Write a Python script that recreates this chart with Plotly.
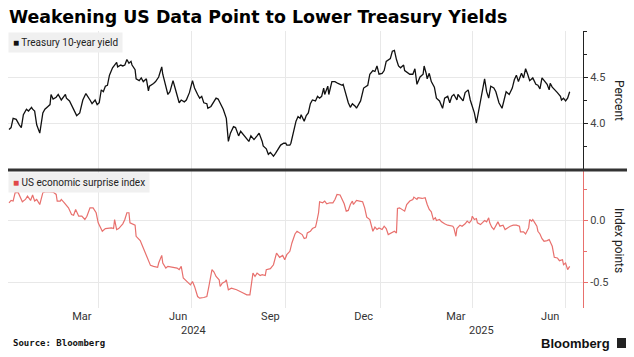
import plotly.graph_objects as go

# ---------------- data ----------------
yield_dates = [
 "2024-01-05","2024-01-07","2024-01-09","2024-01-12","2024-01-15","2024-01-17","2024-01-19","2024-01-22",
 "2024-01-24","2024-01-27","2024-01-28","2024-01-30","2024-02-01","2024-02-04","2024-02-07","2024-02-09",
 "2024-02-12","2024-02-14","2024-02-15","2024-02-17","2024-02-20","2024-02-22","2024-02-24","2024-02-25",
 "2024-02-29","2024-03-01","2024-03-04","2024-03-06","2024-03-09","2024-03-11","2024-03-14","2024-03-17",
 "2024-03-20","2024-03-22","2024-03-24","2024-03-26","2024-03-29","2024-03-31","2024-04-02","2024-04-04",
 "2024-04-06","2024-04-08","2024-04-10","2024-04-12","2024-04-15","2024-04-17","2024-04-19","2024-04-20",
 "2024-04-23","2024-04-25","2024-04-27","2024-04-29","2024-05-01","2024-05-03","2024-05-04","2024-05-07",
 "2024-05-08","2024-05-11","2024-05-13","2024-05-15","2024-05-18","2024-05-20","2024-05-21","2024-05-25",
 "2024-05-27","2024-05-30","2024-06-02","2024-06-03","2024-06-06","2024-06-08","2024-06-10","2024-06-13",
 "2024-06-15","2024-06-17","2024-06-19","2024-06-21","2024-06-24","2024-06-26","2024-06-29","2024-07-02",
 "2024-07-04","2024-07-07","2024-07-09","2024-07-11","2024-07-13","2024-07-16","2024-07-17","2024-07-20",
 "2024-07-22","2024-07-25","2024-07-27","2024-07-29","2024-08-01","2024-08-04","2024-08-06","2024-08-08",
 "2024-08-11","2024-08-13","2024-08-16","2024-08-18","2024-08-21","2024-08-23","2024-08-26","2024-08-28",
 "2024-08-31","2024-09-03","2024-09-05","2024-09-08","2024-09-09","2024-09-12","2024-09-14","2024-09-16",
 "2024-09-19","2024-09-21","2024-09-24","2024-09-26","2024-09-29","2024-10-01","2024-10-02","2024-10-05",
 "2024-10-06","2024-10-09","2024-10-11","2024-10-13","2024-10-15","2024-10-16","2024-10-19","2024-10-21",
 "2024-10-23","2024-10-25","2024-10-27","2024-10-30","2024-11-01","2024-11-03","2024-11-05","2024-11-07",
 "2024-11-08","2024-11-11","2024-11-12","2024-11-15","2024-11-18","2024-11-21","2024-11-25","2024-11-26",
 "2024-11-29","2024-12-01","2024-12-03","2024-12-05","2024-12-08","2024-12-09","2024-12-13","2024-12-14",
 "2024-12-16","2024-12-20","2024-12-22","2024-12-25","2024-12-27","2024-12-29","2024-12-31","2025-01-03",
 "2025-01-05","2025-01-07","2025-01-11","2025-01-13","2025-01-15","2025-01-17","2025-01-19","2025-01-21",
 "2025-01-24","2025-01-25","2025-01-28","2025-01-30","2025-02-02","2025-02-04","2025-02-06","2025-02-09",
 "2025-02-12","2025-02-13","2025-02-15","2025-02-16","2025-02-18","2025-02-20","2025-02-23","2025-02-25",
 "2025-02-28","2025-03-03","2025-03-05","2025-03-08","2025-03-10","2025-03-12","2025-03-14","2025-03-17",
 "2025-03-18","2025-03-21","2025-03-23","2025-03-25","2025-03-28","2025-03-30","2025-04-01","2025-04-03",
 "2025-04-05","2025-04-07","2025-04-10","2025-04-13","2025-04-15","2025-04-17","2025-04-19","2025-04-22",
 "2025-04-24","2025-04-27","2025-04-30","2025-05-02","2025-05-04","2025-05-07","2025-05-10","2025-05-12",
 "2025-05-14","2025-05-16","2025-05-19","2025-05-21","2025-05-23","2025-05-25","2025-05-27","2025-05-30",
 "2025-06-02","2025-06-04","2025-06-06","2025-06-08","2025-06-11","2025-06-13","2025-06-15","2025-06-16",
 "2025-06-18","2025-06-21","2025-06-23","2025-06-26","2025-06-27","2025-06-29","2025-07-01","2025-07-03",
 "2025-07-05",
]
yield_values = [
 3.93,3.95,4.05,4.04,3.98,3.95,4.09,4.15,
 4.13,4.17,4.15,4.13,3.98,3.89,4.11,4.15,
 4.18,4.20,4.31,4.26,4.28,4.31,4.27,4.25,
 4.31,4.27,4.24,4.19,4.11,4.08,4.11,4.25,
 4.32,4.29,4.25,4.21,4.25,4.20,4.22,4.36,
 4.34,4.40,4.41,4.52,4.60,4.63,4.66,4.61,
 4.63,4.62,4.63,4.69,4.65,4.67,4.63,4.58,
 4.48,4.46,4.49,4.45,4.48,4.35,4.40,4.43,
 4.45,4.50,4.61,4.53,4.38,4.31,4.34,4.46,
 4.38,4.29,4.22,4.25,4.23,4.25,4.33,4.46,
 4.38,4.31,4.27,4.29,4.22,4.21,4.16,4.18,
 4.22,4.27,4.26,4.22,4.15,4.05,3.80,3.89,
 3.96,3.95,3.86,3.91,3.87,3.84,3.80,3.86,
 3.82,3.86,3.89,3.80,3.75,3.72,3.66,3.68,
 3.64,3.67,3.73,3.76,3.78,3.78,3.76,3.76,
 3.78,3.93,4.02,4.07,4.05,4.09,4.02,4.08,
 4.11,4.21,4.25,4.24,4.29,4.27,4.29,4.38,
 4.31,4.40,4.31,4.45,4.45,4.43,4.41,4.42,
 4.29,4.22,4.17,4.21,4.18,4.16,4.24,4.29,
 4.38,4.41,4.53,4.57,4.56,4.62,4.53,4.54,
 4.57,4.67,4.70,4.78,4.79,4.69,4.62,4.60,
 4.63,4.57,4.54,4.53,4.53,4.59,4.42,4.50,
 4.53,4.62,4.54,4.48,4.54,4.45,4.39,4.27,
 4.24,4.16,4.27,4.29,4.22,4.29,4.31,4.25,
 4.31,4.27,4.24,4.33,4.36,4.25,4.18,4.11,
 4.00,4.11,4.31,4.48,4.34,4.27,4.40,4.38,
 4.34,4.22,4.16,4.27,4.34,4.31,4.38,4.47,
 4.52,4.45,4.54,4.49,4.59,4.53,4.46,4.49,
 4.42,4.41,4.37,4.49,4.45,4.42,4.36,4.43,
 4.39,4.36,4.33,4.29,4.25,4.27,4.24,4.27,
 4.34,
]

surprise_dates = [
 "2024-01-05","2024-01-07","2024-01-09","2024-01-11","2024-01-14","2024-01-16","2024-01-18","2024-01-21",
 "2024-01-23","2024-01-26","2024-01-28","2024-01-30","2024-02-01","2024-02-04","2024-02-06","2024-02-07",
 "2024-02-10","2024-02-17","2024-02-20","2024-02-21","2024-02-24","2024-02-25","2024-02-28","2024-03-03",
 "2024-03-06","2024-03-08","2024-03-10","2024-03-13","2024-03-16","2024-03-19","2024-03-21","2024-03-24",
 "2024-03-27","2024-03-30","2024-04-01","2024-04-03","2024-04-05","2024-04-08","2024-04-14","2024-04-16",
 "2024-04-17","2024-04-19","2024-04-21","2024-04-25","2024-04-27","2024-04-29","2024-05-01","2024-05-02",
 "2024-05-05","2024-05-07","2024-05-08","2024-05-12","2024-05-15","2024-05-18","2024-05-22","2024-05-25",
 "2024-05-29","2024-05-30","2024-06-02","2024-06-03","2024-06-06","2024-06-08","2024-06-13","2024-06-17",
 "2024-06-19","2024-06-21","2024-06-23","2024-06-25","2024-06-28","2024-06-30","2024-07-02","2024-07-04",
 "2024-07-07","2024-07-09","2024-07-13","2024-07-16","2024-07-18","2024-07-21","2024-07-23","2024-07-25",
 "2024-07-28","2024-07-29","2024-07-31","2024-08-03","2024-08-04","2024-08-06","2024-08-09","2024-08-14",
 "2024-08-19","2024-08-24","2024-08-27","2024-08-29","2024-08-30","2024-09-01","2024-09-03","2024-09-06",
 "2024-09-08","2024-09-11","2024-09-12","2024-09-16","2024-09-19","2024-09-22","2024-09-25","2024-09-28",
 "2024-09-30","2024-10-02","2024-10-05","2024-10-07","2024-10-10","2024-10-12","2024-10-15","2024-10-17",
 "2024-10-19","2024-10-21","2024-10-22","2024-10-25","2024-10-27","2024-10-30","2024-10-31","2024-11-02",
 "2024-11-03","2024-11-06","2024-11-08","2024-11-10","2024-11-13","2024-11-16","2024-11-18","2024-11-20",
 "2024-11-23","2024-11-25","2024-11-27","2024-11-29","2024-12-01","2024-12-03","2024-12-05","2024-12-06",
 "2024-12-09","2024-12-12","2024-12-15","2024-12-17","2024-12-19","2024-12-22","2024-12-23","2024-12-25",
 "2024-12-27","2024-12-29","2024-12-31","2025-01-03","2025-01-05","2025-01-07","2025-01-09","2025-01-12",
 "2025-01-15","2025-01-17","2025-01-18","2025-01-20","2025-01-23","2025-01-25","2025-01-27","2025-01-30",
 "2025-02-02","2025-02-03","2025-02-06","2025-02-07","2025-02-11","2025-02-14","2025-02-16","2025-02-18",
 "2025-02-20","2025-02-22","2025-02-24","2025-02-25","2025-02-28","2025-03-02","2025-03-05","2025-03-08",
 "2025-03-13","2025-03-14","2025-03-16","2025-03-17","2025-03-20","2025-03-22","2025-03-25","2025-03-27",
 "2025-03-29","2025-03-31","2025-04-01","2025-04-03","2025-04-05","2025-04-06","2025-04-09","2025-04-11",
 "2025-04-13","2025-04-15","2025-04-17","2025-04-18","2025-04-20","2025-04-22","2025-04-24","2025-04-26",
 "2025-04-28","2025-05-01","2025-05-03","2025-05-05","2025-05-08","2025-05-11","2025-05-14","2025-05-17",
 "2025-05-18","2025-05-21","2025-05-23","2025-05-26","2025-05-27","2025-05-29","2025-05-30","2025-06-01",
 "2025-06-03","2025-06-04","2025-06-06","2025-06-08","2025-06-10","2025-06-13","2025-06-15","2025-06-18",
 "2025-06-20","2025-06-23","2025-06-25","2025-06-28","2025-06-29","2025-07-01","2025-07-03","2025-07-05",
]
surprise_values = [
 0.144,0.163,0.158,0.226,0.226,0.185,0.152,0.171,
 0.198,0.163,0.207,0.158,0.171,0.130,0.185,0.226,
 0.234,0.231,0.212,0.158,0.158,0.171,0.144,0.103,
 0.049,0.043,0.090,0.035,0.035,0.008,0.035,0.103,
 0.103,0.063,-0.019,-0.060,-0.087,-0.065,-0.060,-0.065,
 0.008,-0.073,-0.065,-0.027,0.008,0.063,0.063,-0.019,
 -0.033,-0.038,-0.128,-0.163,-0.223,-0.283,-0.364,-0.372,
 -0.380,-0.345,-0.283,-0.345,-0.386,-0.372,-0.380,-0.386,
 -0.399,-0.372,-0.467,-0.481,-0.508,-0.522,-0.495,-0.535,
 -0.617,-0.630,-0.625,-0.617,-0.535,-0.399,-0.418,-0.454,
 -0.481,-0.535,-0.508,-0.495,-0.481,-0.562,-0.549,-0.562,
 -0.582,-0.603,-0.603,-0.508,-0.427,-0.454,-0.427,-0.446,
 -0.440,-0.446,-0.399,-0.391,-0.359,-0.264,-0.299,-0.283,
 -0.318,-0.277,-0.250,-0.182,-0.109,-0.087,-0.101,-0.114,
 -0.147,-0.141,-0.101,-0.087,-0.065,-0.054,-0.019,0.063,
 0.152,0.144,0.158,0.136,0.144,0.144,0.171,0.212,
 0.207,0.171,0.136,0.076,0.082,0.130,0.158,0.130,
 0.163,0.158,0.152,0.103,0.027,0.008,-0.027,-0.087,
 -0.054,-0.073,-0.060,-0.073,-0.046,-0.065,-0.114,-0.101,
 -0.087,-0.101,0.098,0.103,0.090,0.076,0.130,0.158,
 0.171,0.190,0.171,0.185,0.179,0.185,0.130,0.090,
 0.071,0.008,0.022,0.000,0.008,-0.011,-0.027,-0.038,
 -0.046,-0.060,-0.128,-0.065,-0.038,-0.046,-0.027,-0.005,
 -0.019,0.000,0.035,0.008,0.016,-0.019,-0.033,-0.019,
 0.000,-0.011,0.022,-0.019,-0.054,-0.073,-0.046,-0.011,
 -0.046,-0.038,-0.073,-0.060,-0.046,-0.038,-0.038,-0.046,
 -0.092,-0.092,-0.109,-0.060,0.008,-0.005,0.008,-0.019,
 -0.046,-0.087,-0.109,-0.147,-0.168,-0.163,-0.155,-0.209,
 -0.299,-0.304,-0.326,-0.318,-0.359,-0.345,-0.399,-0.372,
]

x_range = ["2024-01-04", "2025-07-18"]
quarter_grid_dates = ["2024-04-01", "2024-07-01", "2024-10-01", "2025-01-01", "2025-04-01", "2025-07-01"]
month_tick_dates = ["2024-03-16", "2024-06-18", "2024-09-16", "2024-12-16", "2025-03-16", "2025-06-16"]
month_tick_labels = ["Mar", "Jun", "Sep", "Dec", "Mar", "Jun"]
year_label_dates = ["2024-07-03", "2025-04-10"]
year_labels = ["2024", "2025"]
yield_range = [3.5, 5.0]
yield_ticks = [4.0, 4.5]
yield_tick_labels = ["4.0", "4.5"]
surprise_range = [-0.71, 0.41]
surprise_ticks = [-0.5, 0.0]
surprise_tick_labels = ["-0.5", "0.0"]

# ---------------- figure ----------------
W, H = 634, 357
def px(x):
    return x / W
def py(y):
    return (H - y) / H

BLACK = "#111111"
RED = "#e8706d"
GRID = "#e8e8e8"
FONT = "Roboto"

fig = go.Figure()
fig.add_trace(go.Scatter(x=yield_dates, y=yield_values, xaxis="x", yaxis="y", mode="lines",
                         line=dict(color=BLACK, width=1.3), hoverinfo="skip"))
fig.add_trace(go.Scatter(x=surprise_dates, y=surprise_values, xaxis="x2", yaxis="y2", mode="lines",
                         line=dict(color=RED, width=1.2), hoverinfo="skip"))

xdom = [px(8), px(583)]
fig.update_layout(
    width=W, height=H, margin=dict(l=0, r=0, t=0, b=0),
    paper_bgcolor="white", plot_bgcolor="white", showlegend=False,
    font=dict(family=FONT, size=11, color="#333333"),
    xaxis=dict(domain=xdom, anchor="y", type="date", range=x_range,
               tickmode="array", tickvals=quarter_grid_dates, showticklabels=False,
               showgrid=True, gridcolor=GRID, gridwidth=1, ticks="", zeroline=False, showline=False),
    xaxis2=dict(domain=xdom, anchor="y2", type="date", range=x_range, matches="x",
                tickmode="array", tickvals=month_tick_dates, ticktext=month_tick_labels,
                showgrid=False, ticks="", zeroline=False, showline=False,
                tickfont=dict(size=11, color="#333333", family=FONT),
                minor=dict(tickmode="array", tickvals=quarter_grid_dates, showgrid=True,
                           gridcolor=GRID, gridwidth=1, ticks="")),
    yaxis=dict(domain=[py(169), py(31)], anchor="x", side="right", range=yield_range,
               tickmode="array", tickvals=yield_ticks, ticktext=yield_tick_labels,
               showgrid=True, gridcolor=GRID, zeroline=False,
               showline=True, linecolor="#222222", linewidth=1,
               ticks="outside", ticklen=4, tickcolor="#222222",
               tickfont=dict(size=11, color="#444444", family=FONT),
               minor=dict(tickmode="linear", tick0=3.5, dtick=0.25, ticks="outside",
                          ticklen=3, tickcolor="#222222", showgrid=False)),
    yaxis2=dict(domain=[py(308), py(170)], anchor="x2", side="right", range=surprise_range,
                tickmode="array", tickvals=surprise_ticks, ticktext=surprise_tick_labels,
                showgrid=True, gridcolor=GRID, zeroline=False,
                showline=True, linecolor=RED, linewidth=1,
                ticks="outside", ticklen=4, tickcolor=RED,
                tickfont=dict(size=11, color="#444444", family=FONT),
                minor=dict(tickmode="linear", tick0=0, dtick=0.25, ticks="outside",
                           ticklen=3, tickcolor=RED, showgrid=False)),
)

# divider between panels
fig.add_shape(type="line", xref="paper", yref="paper", x0=px(8), x1=px(627), y0=py(170), y1=py(170),
              line=dict(color="#333333", width=3))
# Bloomberg glyph
fig.add_shape(type="rect", xref="paper", yref="paper", x0=px(617), x1=px(626), y0=py(348), y1=py(338),
              line=dict(width=0), fillcolor="#222222")

ann = []
ann.append(dict(text="<b>Weakening US Data Point to Lower Treasury Yields</b>", xref="paper", yref="paper",
                x=px(7), y=py(17), xanchor="left", yanchor="middle", showarrow=False,
                font=dict(family="DejaVu Sans", size=17.4, color="#000000")))
ann.append(dict(text='<span style="color:#111111">■</span> Treasury 10-year yield', xref="paper", yref="paper",
                x=px(8), y=py(42), xanchor="left", yanchor="middle", showarrow=False,
                bgcolor="#f0f0f0", borderpad=4, font=dict(family=FONT, size=10, color="#222222")))
ann.append(dict(text='<span style="color:#e04848">■</span> US economic surprise index', xref="paper", yref="paper",
                x=px(8), y=py(182), xanchor="left", yanchor="middle", showarrow=False,
                bgcolor="#f0f0f0", borderpad=4, font=dict(family=FONT, size=10, color="#222222")))
ann.append(dict(text="Percent", xref="paper", yref="paper", x=px(619), y=py(100), textangle=90,
                xanchor="center", yanchor="middle", showarrow=False,
                font=dict(family=FONT, size=12, color="#222222")))
ann.append(dict(text="Index points", xref="paper", yref="paper", x=px(619), y=py(240), textangle=90,
                xanchor="center", yanchor="middle", showarrow=False,
                font=dict(family=FONT, size=12, color="#222222")))
for d, lab in zip(year_label_dates, year_labels):
    ann.append(dict(text=lab, xref="x2", yref="paper", x=d, y=py(330), xanchor="center", yanchor="middle",
                    showarrow=False, font=dict(family=FONT, size=11, color="#333333")))
ann.append(dict(text="<b>Source: Bloomberg</b>", xref="paper", yref="paper", x=px(11), y=py(343),
                xanchor="left", yanchor="middle", showarrow=False,
                font=dict(family="DejaVu Sans Mono", size=9, color="#111111")))
ann.append(dict(text="<b>Bloomberg</b>", xref="paper", yref="paper", x=px(612), y=py(343),
                xanchor="right", yanchor="middle", showarrow=False,
                font=dict(family="Liberation Sans", size=13, color="#111111")))
fig.update_layout(annotations=ann)

fig.write_html("out.html", config={"displayModeBar": False, "staticPlot": True},
               post_script="document.body.style.margin='0px';document.body.style.overflow='hidden';")
